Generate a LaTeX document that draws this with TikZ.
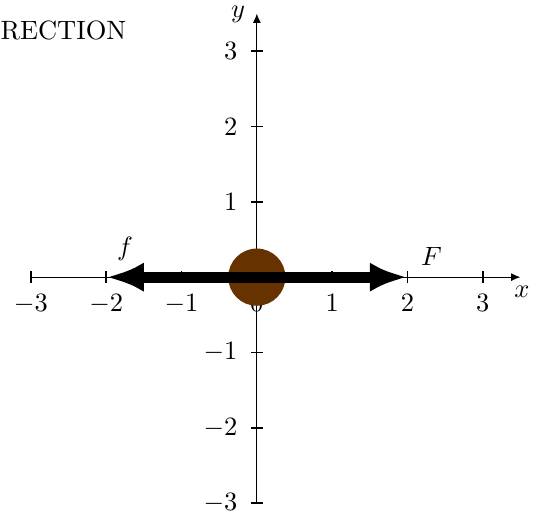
\documentclass[tikz,border=0pt]{standalone}
\usepackage{amsmath}
\usepackage{tikz}
\usetikzlibrary{arrows.meta, positioning, calc}

\definecolor{ballbrown}{RGB}{102,51,0}

\begin{document}
\begin{tikzpicture}[
    axis/.style={-{Latex[length=3.5pt, width=3pt]}},
    tick/.style={semithick},
    ticklab/.style={font=\normalsize, inner sep=0pt},
    force/.style={line width=4.2pt, -{Latex[length=5mm, width=3.9mm]}},
    forcelab/.style={font=\normalsize},
    ball/.style={circle, fill=ballbrown, minimum size=0.76cm, inner sep=0pt}
]
    \useasboundingbox (-3.41,-3.19) rectangle (3.72,3.68);

    % Axes
    \coordinate (o) at (0,0);
    \coordinate (xmin) at (-3,0);
    \coordinate (xmax) at (3.5,0);
    \coordinate (ymin) at (0,-3);
    \coordinate (ymax) at (0,3.5);
    \draw[axis] (xmin) -- (xmax);
    \draw[axis] (ymin) -- (ymax);
    \node (xlab) at (3.52,-0.2) {$x$};
    \node (ylab) at (-0.25,3.49) {$y$};

    % Ticks and their labels
    \foreach \v in {-3,-2,-1,0,1,2,3} {
        \draw[tick] (\v,-0.08) -- (\v,0.08);
        \node[ticklab, anchor=north] (xt\v) at (\v,-0.22) {$\v$};
    }
    \foreach \v in {-3,-2,-1,1,2,3} {
        \draw[tick] (-0.08,\v) -- (0.08,\v);
        \node[ticklab, anchor=east] (yt\v) at (-0.25,\v) {$\v$};
    }

    % Heading
    \node[inner sep=0pt, anchor=west] (head) at (-3.41,3.28) {RECTION};

    % Body and forces
    \node[ball] (body) at (o) {};
    \coordinate (fend) at (-2,0);
    \coordinate (Fend) at (2,0);
    \draw[force] (o) -- (fend);
    \draw[force] (o) -- (Fend);
    \node[forcelab] (flab) at (-1.75,0.38) {$f$};
    \node[forcelab] (Flab) at (2.32,0.28) {$F$};

\end{tikzpicture}
\end{document}
